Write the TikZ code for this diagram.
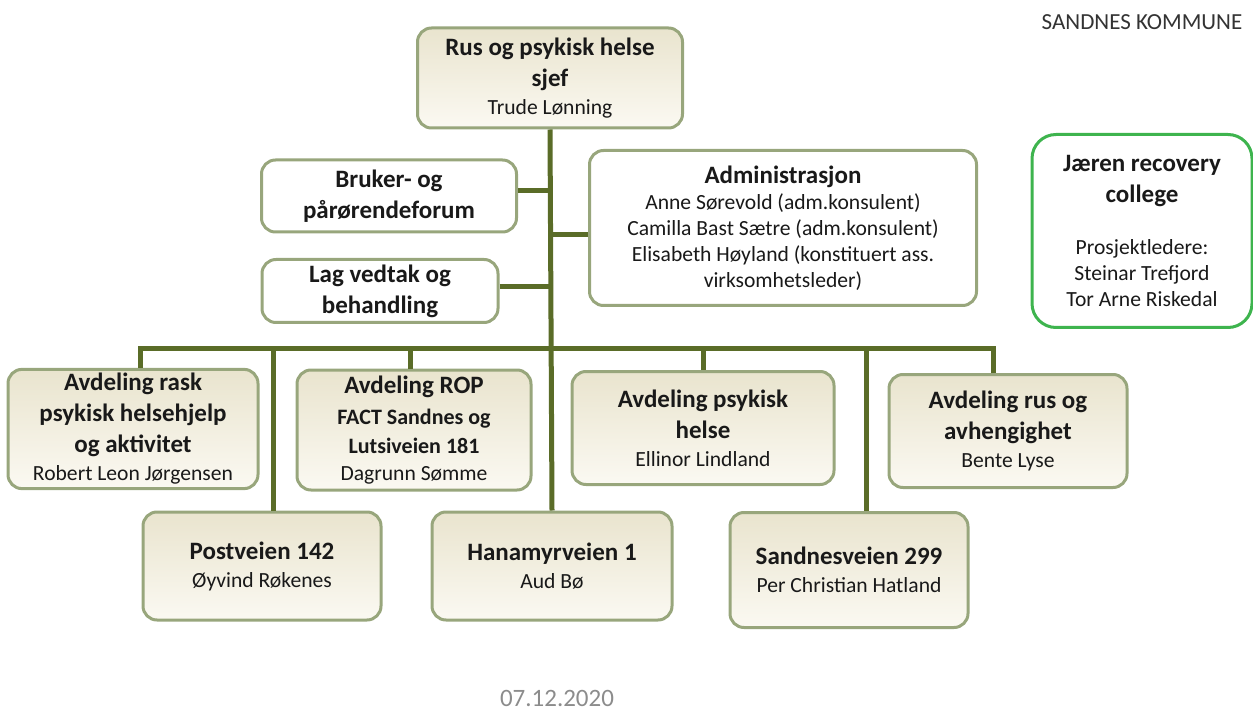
\documentclass[tikz,border=0pt]{standalone}
\usepackage{fontspec}
\setmainfont{Carlito}
\usepackage{tikz}
\usetikzlibrary{positioning}
\definecolor{sage}{RGB}{152,166,124}
\definecolor{olive}{RGB}{90,108,40}
\definecolor{beige}{RGB}{233,228,206}
\definecolor{cream}{RGB}{251,249,242}
\definecolor{leaf}{RGB}{62,180,78}
\newcommand{\ttl}[1]{{\fontsize{12.5pt}{15pt}\selectfont\bfseries #1}}
\newcommand{\tbr}{\\[2.5pt]}

\begin{document}
\begin{tikzpicture}[
  x=0.5pt,y=-0.5pt,
  every node/.style={font=\fontsize{10.8pt}{13pt}\selectfont,text=black!90},
  unit/.style={draw=sage,line width=1.5pt,rounded corners=7pt,top color=beige,bottom color=cream,align=center,inner sep=2pt},
  plain/.style={draw=sage,line width=1.5pt,rounded corners=7pt,fill=white,align=center,inner sep=2pt},
  link/.style={draw=olive,line width=2.5pt},
]
  \useasboundingbox (0,0) rectangle (1253,711);
  \node[unit,minimum width=132.5pt,minimum height=50pt] (top) at (550,78) {\ttl{Rus og psykisk helse}\tbr\ttl{sjef}\\[1pt]Trude Lønning};
  \node[plain,minimum width=127.5pt,minimum height=36pt] (bruker) at (389,196) {\ttl{Bruker- og}\tbr\ttl{pårørendeforum}};
  \node[plain,minimum width=118pt,minimum height=31.5pt] (lag) at (380,291) {\ttl{Lag vedtak og}\tbr\ttl{behandling}};
  \node[plain,minimum width=193.5pt,minimum height=77.5pt] (admin) at (783,228) {\ttl{Administrasjon}\\Anne Sørevold (adm.konsulent)\\Camilla Bast Sætre (adm.konsulent)\\Elisabeth Høyland (konstituert ass.\\virksomhetsleder)};
  \node[plain,draw=leaf,rounded corners=12pt,minimum width=110pt,minimum height=96.5pt] (jrc) at (1142,231) {\ttl{Jæren recovery}\tbr\ttl{college}\\[13pt]Prosjektledere:\\Steinar Trefjord\\Tor Arne Riskedal};

  \node[unit,minimum width=125pt,minimum height=59pt] (rask) at (133,429) {\ttl{Avdeling rask}\tbr\ttl{psykisk helsehjelp}\tbr\ttl{og aktivitet}\\[1pt]Robert Leon Jørgensen};
  \node[unit,minimum width=117pt,minimum height=60pt] (rop) at (414,430) {\ttl{Avdeling ROP}\tbr\ttl{\fontsize{11pt}{14pt}\selectfont FACT Sandnes og}\\[1.5pt]\ttl{\fontsize{11pt}{14pt}\selectfont Lutsiveien 181}\\[0.5pt]Dagrunn Sømme};
  \node[unit,minimum width=131pt,minimum height=56.5pt] (psyk) at (703,428) {\ttl{Avdeling psykisk}\tbr\ttl{helse}\\[1pt]Ellinor Lindland};
  \node[unit,minimum width=119pt,minimum height=56.5pt] (rus) at (1008,431) {\ttl{Avdeling rus og}\tbr\ttl{avhengighet}\\[1pt]Bente Lyse};
  \node[unit,minimum width=119pt,minimum height=54pt] (post) at (262,566) {\ttl{Postveien 142}\\[1pt]Øyvind Røkenes};
  \node[unit,minimum width=120pt,minimum height=54pt] (hana) at (552,566) {\ttl{Hanamyrveien 1}\\[1pt]Aud Bø};
  \node[unit,minimum width=119pt,minimum height=57.5pt] (sand) at (849,570) {\ttl{Sandnesveien 299}\\[1pt]Per Christian Hatland};

  \node[font=\fontsize{11.5pt}{14pt}\selectfont,text=black!80] (kommune) at (1142,22) {SANDNES KOMMUNE};
  \node[font=\fontsize{12.5pt}{15pt}\selectfont,text=black!45] (dato) at (557,698) {07.12.2020};

  % lines
  \coordinate (bar) at (552,348);
  \draw[link] (top.south) -- (hana.north);
  \draw[link] ([yshift=2.5pt]bruker.east) -- ([yshift=2.5pt]bruker.east -| top.south);
  \draw[link] ([yshift=-3.5pt]admin.west) -- ([yshift=-3.5pt]admin.west -| top.south);
  \draw[link] ([yshift=2pt]lag.east) -- ([yshift=2pt]lag.east -| top.south);
  \draw[link,line cap=rect] ([xshift=3.5pt]rask.north |- bar) -- ([xshift=-7.5pt]rus.north |- bar);
  \foreach \u/\dx in {rask/3.5,post/5.5,rop/-2,psyk/0,sand/8.5,rus/-7.5}
    \draw[link] ([xshift=\dx pt]\u.north) -- ([xshift=\dx pt]\u.north |- bar);
\end{tikzpicture}
\end{document}
